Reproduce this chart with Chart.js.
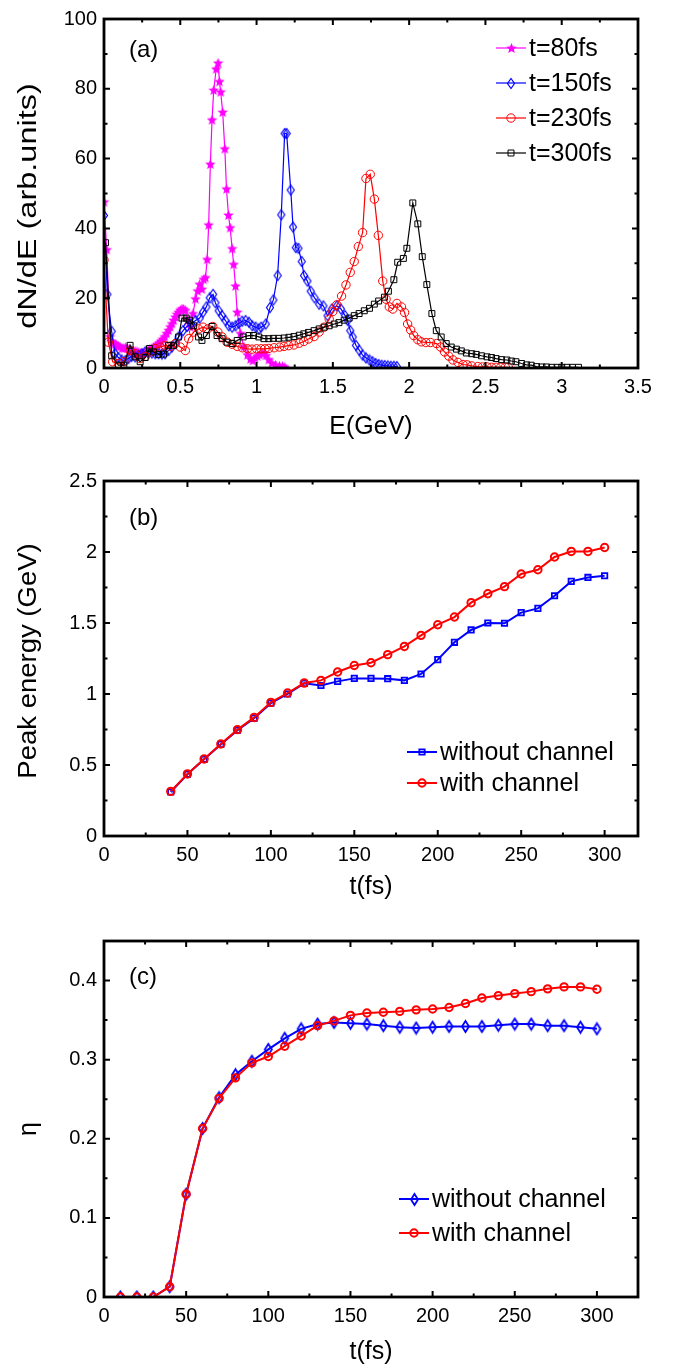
<!DOCTYPE html>
<html>
<head>
<meta charset="utf-8">
<script src="https://cdn.jsdelivr.net/npm/chart.js@4.4.1/dist/chart.umd.min.js"></script>
<style>
  html, body { margin: 0; padding: 0; background: #fff; }
  #wrap { position: relative; width: 674px; height: 1368px; }
  canvas { position: absolute; left: 0; }
</style>
</head>
<body>
<div id="wrap">
  <canvas id="chartA" width="674" height="450" style="top:0px"></canvas>
  <canvas id="chartB" width="674" height="450" style="top:460px"></canvas>
  <canvas id="chartC" width="674" height="448" style="top:920px"></canvas>
</div>
<script>
// ---- (a) energy spectra, E in GeV, dN/dE in arb. units ----
let eT80 = [0.000,0.018,0.040,0.052,0.061,0.072,0.083,0.095,0.105,0.118,0.130,0.142,0.153,0.166,0.180,0.192,0.204,0.216,0.228,0.240,0.252,0.264,0.276,0.288,0.300,0.314,0.326,0.338,0.350,0.362,0.374,0.386,0.398,0.410,0.423,0.434,0.445,0.456,0.467,0.478,0.489,0.500,0.511,0.522,0.533,0.548,0.566,0.583,0.600,0.614,0.627,0.642,0.653,0.665,0.676,0.686,0.697,0.708,0.719,0.735,0.748,0.757,0.765,0.778,0.792,0.803,0.816,0.827,0.840,0.850,0.862,0.873,0.895,0.917,0.940,0.960,0.975,0.990,1.005,1.020,1.037,1.050,1.062,1.080,1.100,1.125,1.150,1.170,1.185];
let vT80 = [47.5,33.8,8.9,7.5,7.0,6.8,6.5,6.2,6.0,5.6,5.5,5.8,5.6,5.2,5.0,4.8,4.7,4.6,4.4,4.2,4.1,4.3,4.6,4.9,5.2,5.6,5.9,6.2,6.6,7.1,7.6,8.2,8.9,9.8,10.7,11.7,12.6,13.6,14.5,15.3,15.9,16.5,16.9,16.8,16.4,13.6,11.7,15.5,19.7,22.0,23.9,22.5,25.3,25.8,31.0,40.9,58.3,71.0,79.5,85.6,87.3,82.0,79.0,73.2,62.7,51.2,43.7,40.1,34.1,29.6,23.4,15.9,9.8,6.0,3.7,2.5,2.0,2.8,3.3,3.7,4.1,4.2,3.5,2.3,1.3,0.8,0.5,0.4,0.2];

let eT150 = [0.000,0.022,0.050,0.072,0.094,0.116,0.140,0.160,0.180,0.204,0.226,0.248,0.270,0.290,0.314,0.336,0.358,0.380,0.400,0.423,0.445,0.467,0.489,0.518,0.544,0.570,0.600,0.627,0.649,0.671,0.693,0.715,0.730,0.752,0.774,0.796,0.818,0.840,0.862,0.884,0.906,0.928,0.950,0.972,0.994,1.015,1.030,1.060,1.088,1.110,1.138,1.162,1.184,1.197,1.224,1.239,1.257,1.274,1.296,1.311,1.333,1.355,1.380,1.410,1.438,1.465,1.493,1.526,1.553,1.580,1.597,1.614,1.630,1.651,1.673,1.695,1.717,1.740,1.760,1.780,1.800,1.820,1.840,1.860,1.880,1.900,1.920];
let vT150 = [43.7,21.1,10.5,4.1,3.0,2.3,2.1,2.7,3.3,3.2,3.6,4.1,4.6,4.4,4.3,4.1,4.1,4.0,4.1,5.0,6.0,7.0,8.9,10.7,11.9,12.6,13.6,14.3,16.0,17.5,20.1,21.1,18.7,16.4,15.0,13.6,12.1,11.7,12.1,12.8,13.4,13.6,13.1,12.1,11.7,11.2,11.7,12.6,17.3,19.5,26.5,43.9,67.2,67.2,51.0,40.4,34.5,34.3,30.5,26.5,24.9,22.0,20.1,18.3,17.8,15.0,16.9,17.8,16.9,15.0,13.6,10.7,8.9,6.5,5.1,3.7,2.9,2.3,1.8,1.3,1.0,0.8,0.7,0.6,0.5,0.5,0.4];

let eT230 = [0.000,0.028,0.057,0.094,0.130,0.171,0.204,0.237,0.270,0.303,0.336,0.368,0.400,0.434,0.467,0.500,0.533,0.555,0.588,0.620,0.649,0.680,0.713,0.746,0.774,0.807,0.840,0.873,0.906,0.940,0.970,1.000,1.030,1.055,1.080,1.115,1.150,1.180,1.210,1.245,1.280,1.310,1.340,1.377,1.410,1.443,1.476,1.500,1.526,1.557,1.586,1.614,1.640,1.667,1.695,1.717,1.745,1.772,1.798,1.827,1.849,1.870,1.893,1.920,1.950,1.970,1.990,2.010,2.030,2.057,2.080,2.110,2.140,2.180,2.206,2.232,2.260,2.287,2.320,2.353,2.380,2.410,2.450,2.480,2.510,2.540,2.570,2.600,2.630,2.650];
let vT230 = [31.0,7.4,1.8,1.3,1.8,5.0,4.1,2.7,3.3,4.6,5.6,6.0,6.5,6.2,7.0,6.0,5.0,8.4,10.3,11.2,11.7,11.2,11.9,10.3,8.9,7.4,6.8,6.2,5.8,5.5,5.4,5.5,5.5,5.5,5.6,5.8,6.0,6.2,6.4,6.6,7.1,7.6,8.3,9.0,10.3,11.7,14.0,16.2,18.1,20.6,23.8,27.4,30.5,34.8,38.8,54.3,55.5,48.4,38.0,24.9,19.7,17.5,16.9,18.5,17.5,15.9,12.6,10.9,9.3,8.1,7.5,7.3,7.3,7.0,6.0,4.6,3.4,2.3,1.6,1.0,0.9,0.6,0.4,0.3,0.3,0.2,0.2,0.2,0.2,0.2];

let eT300 = [0.010,0.050,0.094,0.130,0.171,0.204,0.237,0.270,0.298,0.325,0.357,0.390,0.423,0.456,0.489,0.511,0.539,0.561,0.588,0.620,0.642,0.671,0.708,0.741,0.774,0.807,0.840,0.873,0.912,0.950,0.980,1.015,1.048,1.080,1.110,1.145,1.180,1.212,1.245,1.280,1.310,1.340,1.377,1.410,1.443,1.476,1.509,1.540,1.574,1.607,1.640,1.672,1.706,1.740,1.772,1.800,1.838,1.864,1.900,1.925,1.962,1.985,2.024,2.057,2.086,2.116,2.149,2.178,2.210,2.243,2.276,2.310,2.342,2.375,2.410,2.440,2.474,2.510,2.540,2.570,2.605,2.640,2.670,2.700,2.737,2.770,2.800,2.835,2.870,2.900,2.935,2.970,3.000,3.035,3.070,3.110];
let vT300 = [35.9,3.5,0.8,0.8,6.5,3.2,1.8,3.0,5.6,4.6,3.9,4.0,6.5,6.5,8.9,14.3,14.3,13.7,12.1,8.9,7.9,9.3,11.9,9.3,8.4,7.4,7.0,7.9,8.9,9.3,9.3,8.9,8.4,8.4,8.5,8.5,8.6,8.8,9.0,9.4,9.8,10.2,10.7,11.2,11.7,12.1,12.6,13.0,13.7,14.3,15.0,15.6,16.4,17.1,18.3,19.2,20.3,22.0,25.3,30.3,31.4,34.3,47.3,41.3,31.9,23.9,15.6,10.7,8.9,7.0,6.0,5.4,4.9,4.3,4.1,3.9,3.5,3.2,3.0,2.7,2.4,2.3,2.0,1.8,1.3,0.9,0.8,0.4,0.3,0.3,0.2,0.2,0.2,0.2,0.2,0.2];

// ---- (b) peak energy (GeV) vs t (fs) ----
let tB = [40,50,60,70,80,90,100,110,120,130,140,150,160,170,180,190,200,210,220,230,240,250,260,270,280,290,300];
let peakWithout = [0.31,0.435,0.54,0.645,0.745,0.83,0.935,1.0,1.075,1.06,1.089,1.11,1.11,1.108,1.096,1.141,1.242,1.364,1.451,1.5,1.498,1.573,1.603,1.692,1.793,1.821,1.833];
let peakWith = [0.314,0.437,0.542,0.648,0.749,0.835,0.941,1.007,1.077,1.096,1.155,1.201,1.22,1.277,1.335,1.413,1.488,1.542,1.643,1.706,1.756,1.845,1.875,1.965,2.004,2.004,2.032];

// ---- (c) eta vs t (fs) ----
let tC = [10,20,30,40,50,60,70,80,90,100,110,120,130,140,150,160,170,180,190,200,210,220,230,240,250,260,270,280,290,300];
let etaWithout = [0,0,0,0.013,0.13,0.213,0.252,0.281,0.298,0.313,0.327,0.339,0.345,0.347,0.346,0.345,0.343,0.341,0.340,0.341,0.342,0.342,0.342,0.3435,0.345,0.345,0.343,0.343,0.341,0.339];
let etaWith = [0,0,0,0.013,0.13,0.213,0.251,0.277,0.296,0.304,0.317,0.330,0.343,0.349,0.356,0.359,0.360,0.361,0.363,0.364,0.366,0.371,0.378,0.381,0.3835,0.386,0.3895,0.392,0.392,0.389];

const FONT = 'Arial, "Liberation Sans", Helvetica, sans-serif';

function pts(xs, ys) { return xs.map((x, i) => ({x: x, y: ys[i]})); }

// filled 5 point star marker
function starImage(size, color) {
    const c = document.createElement('canvas');
    c.width = c.height = size;
    const g = c.getContext('2d');
    const r = size / 2, ri = r * 0.45;
    g.beginPath();
    for (let i = 0; i < 10; i++) {
        const a = -Math.PI / 2 + i * Math.PI / 5;
        const rr = i % 2 ? ri : r;
        g.lineTo(r + rr * Math.cos(a), r + rr * Math.sin(a));
    }
    g.closePath();
    g.fillStyle = color;
    g.fill();
    return c;
}

// open diamond, taller than wide
function diamondImage(w, h, color, lw) {
    const c = document.createElement('canvas');
    c.width = Math.ceil(w + lw * 2);
    c.height = Math.ceil(h + lw * 2);
    const g = c.getContext('2d');
    const cx = c.width / 2, cy = c.height / 2;
    g.beginPath();
    g.moveTo(cx, cy - h / 2);
    g.lineTo(cx + w / 2, cy);
    g.lineTo(cx, cy + h / 2);
    g.lineTo(cx - w / 2, cy);
    g.closePath();
    g.strokeStyle = color;
    g.lineWidth = lw;
    g.stroke();
    return c;
}

function drawMarker(ctx, ds, x, y) {
    const st = ds.pointStyle;
    if (st instanceof HTMLCanvasElement) {
        ctx.drawImage(st, Math.round(x - st.width / 2), Math.round(y - st.height / 2));
        return;
    }
    ctx.save();
    ctx.strokeStyle = ds.borderColor;
    ctx.lineWidth = ds.pointBorderWidth;
    ctx.beginPath();
    if (st === 'rect') {
        const s = ds.pointRadius * Math.SQRT1_2;
        ctx.rect(x - s, y - s, 2 * s, 2 * s);
    } else {
        ctx.arc(x, y, ds.pointRadius, 0, Math.PI * 2);
    }
    ctx.stroke();
    ctx.restore();
}

// frame, inward ticks on all sides, y title, panel label and legend
const deco = {
    id: 'deco',
    afterDatasetsDraw(chart, args, o) {
        const ctx = chart.ctx;
        const a = chart.chartArea;
        const x = chart.scales.x, y = chart.scales.y;
        ctx.save();
        ctx.strokeStyle = '#000';
        ctx.lineWidth = 2;
        const xt = (vals, len) => {
            vals.forEach(v => {
                const px = x.getPixelForValue(v);
                if (px < a.left + 2 || px > a.right - 2) return;
                ctx.beginPath();
                ctx.moveTo(px, a.bottom); ctx.lineTo(px, a.bottom - len);
                ctx.moveTo(px, a.top); ctx.lineTo(px, a.top + len);
                ctx.stroke();
            });
        };
        const yt = (vals, len) => {
            vals.forEach(v => {
                const py = y.getPixelForValue(v);
                if (py < a.top + 2 || py > a.bottom - 2) return;
                ctx.beginPath();
                ctx.moveTo(a.left, py); ctx.lineTo(a.left + len, py);
                ctx.moveTo(a.right, py); ctx.lineTo(a.right - len, py);
                ctx.stroke();
            });
        };
        xt(o.xMajor, 6); xt(o.xMinor, 3.5);
        yt(o.yMajor, 6); yt(o.yMinor, 3.5);
        ctx.lineWidth = 2.8;
        ctx.strokeRect(a.left, a.top, a.right - a.left, a.bottom - a.top);

        ctx.fillStyle = '#000';
        ctx.textBaseline = 'middle';

        // y title, rotated and a bit stretched along its length like the original
        ctx.save();
        ctx.font = '25px ' + FONT;
        ctx.textAlign = 'center';
        ctx.translate(29, o.yTitleY);
        ctx.rotate(-Math.PI / 2);
        ctx.scale(o.yTitleStretch, 1);
        ctx.fillText(o.yTitle, 0, 0);
        ctx.restore();

        ctx.textAlign = 'left';
        ctx.font = '24px ' + FONT;
        ctx.fillText(o.label, o.labelX, o.labelY);

        ctx.font = '25px ' + FONT;
        chart.data.datasets.forEach((ds, i) => {
            const ly = o.legY[i];
            ctx.strokeStyle = ds.borderColor;
            ctx.lineWidth = ds.borderWidth;
            ctx.beginPath();
            ctx.moveTo(o.legX, ly);
            ctx.lineTo(o.legX + 30, ly);
            ctx.stroke();
            drawMarker(ctx, ds, o.legX + 15, ly);
            ctx.fillStyle = '#000';
            ctx.fillText(ds.label, o.legX + 33, ly + 1);
        });
        ctx.restore();
    }
};

function xAxis(min, max, majors, text, height, padBottom) {
    return {
        type: 'linear', min: min, max: max,
        grid: {display: false, drawTicks: false},
        border: {display: false},
        ticks: {color: '#000', font: {family: FONT, size: 20}, padding: 7, maxRotation: 0, autoSkip: false,
                callback: v => String(+(+v).toFixed(3))},
        title: {display: true, text: text, color: '#000', font: {family: FONT, size: 25}, padding: {top: 0, bottom: padBottom}},
        afterBuildTicks: s => { s.ticks = majors.map(v => ({value: v})); },
        afterFit: s => { s.height = height; }
    };
}

function yAxis(min, max, majors) {
    return {
        type: 'linear', min: min, max: max,
        grid: {display: false, drawTicks: false},
        border: {display: false},
        ticks: {color: '#000', font: {family: FONT, size: 20}, padding: 7, autoSkip: false,
                callback: v => String(+(+v).toFixed(3))},
        afterBuildTicks: s => { s.ticks = majors.map(v => ({value: v})); },
        afterFit: s => { s.width = 104; }
    };
}

function line(label, data, color, style, radius, bw, lw, order) {
    return {
        label: label, data: data,
        borderColor: color, borderWidth: lw,
        backgroundColor: 'rgba(0,0,0,0)',
        pointStyle: style, pointRadius: radius,
        pointBorderColor: color, pointBackgroundColor: 'rgba(0,0,0,0)',
        pointBorderWidth: bw,
        tension: 0, fill: false, order: order
    };
}

const common = {
    responsive: false,
    animation: false,
    events: [],
    plugins: {legend: {display: false}, tooltip: {enabled: false}}
};

// (a)
new Chart(document.getElementById('chartA'), {
    type: 'line',
    data: {datasets: [
        line('t=80fs', pts(eT80, vT80), '#ff00ff', starImage(11, '#ff00ff'), 5, 1, 1.2, 4),
        line('t=150fs', pts(eT150, vT150), '#0000ff', diamondImage(7, 10, '#0000ff', 1.2), 5, 1.2, 1.2, 3),
        line('t=230fs', pts(eT230, vT230), '#ff0000', 'circle', 4.2, 1, 1.2, 2),
        line('t=300fs', pts(eT300, vT300), '#000000', 'rect', 4.2, 1, 1.2, 1)
    ]},
    options: Object.assign({}, common, {
        layout: {padding: {left: 0, right: 36, top: 14, bottom: 0}},
        scales: {
            x: xAxis(0, 3.5, [0,0.5,1,1.5,2,2.5,3,3.5], 'E(GeV)', 82, 8),
            y: yAxis(0, 100, [0,20,40,60,80,100])
        },
        plugins: Object.assign({}, common.plugins, {deco: {
            xMajor: [0,0.5,1,1.5,2,2.5,3,3.5], xMinor: [0.25,0.75,1.25,1.75,2.25,2.75,3.25],
            yMajor: [0,20,40,60,80,100], yMinor: [10,30,50,70,90],
            yTitle: 'dN/dE (arb.units)', yTitleY: 206, yTitleStretch: 1.3,
            label: '(a)', labelX: 129, labelY: 50,
            legX: 496, legY: [48, 83, 118, 153]
        }})
    }),
    plugins: [deco]
});

// (b)
new Chart(document.getElementById('chartB'), {
    type: 'line',
    data: {datasets: [
        line('without channel', pts(tB, peakWithout), '#0000ff', 'rect', 3.8, 1.8, 2, 2),
        line('with channel', pts(tB, peakWith), '#ff0000', 'circle', 3.7, 2, 2, 1)
    ]},
    options: Object.assign({}, common, {
        layout: {padding: {left: 0, right: 36, top: 21, bottom: 0}},
        scales: {
            x: xAxis(0, 320, [0,50,100,150,200,250,300], 't(fs)', 74, 8),
            y: yAxis(0, 2.5, [0,0.5,1,1.5,2,2.5])
        },
        plugins: Object.assign({}, common.plugins, {deco: {
            xMajor: [0,50,100,150,200,250,300], xMinor: [25,75,125,175,225,275],
            yMajor: [0,0.5,1,1.5,2,2.5], yMinor: [0.25,0.75,1.25,1.75,2.25],
            yTitle: 'Peak energy (GeV)', yTitleY: 201, yTitleStretch: 1.1,
            label: '(b)', labelX: 129, labelY: 58,
            legX: 407, legY: [292, 323]
        }})
    }),
    plugins: [deco]
});

// (c)
new Chart(document.getElementById('chartC'), {
    type: 'line',
    data: {datasets: [
        line('without channel', pts(tC, etaWithout), '#0000ff', diamondImage(7, 11, '#0000ff', 1.8), 5, 1.8, 2, 2),
        line('with channel', pts(tC, etaWith), '#ff0000', 'circle', 3.7, 2, 2, 1)
    ]},
    options: Object.assign({}, common, {
        layout: {padding: {left: 0, right: 36, top: 21, bottom: 0}},
        scales: {
            x: xAxis(0, 325, [0,50,100,150,200,250,300], 't(fs)', 71, 1),
            y: yAxis(0, 0.45, [0,0.1,0.2,0.3,0.4])
        },
        plugins: Object.assign({}, common.plugins, {deco: {
            xMajor: [0,50,100,150,200,250,300], xMinor: [25,75,125,175,225,275],
            yMajor: [0,0.1,0.2,0.3,0.4], yMinor: [0.05,0.15,0.25,0.35],
            yTitle: 'η', yTitleY: 209, yTitleStretch: 1,
            label: '(c)', labelX: 129, labelY: 57,
            legX: 399, legY: [279, 313]
        }})
    }),
    plugins: [deco]
});
</script>
</body>
</html>
